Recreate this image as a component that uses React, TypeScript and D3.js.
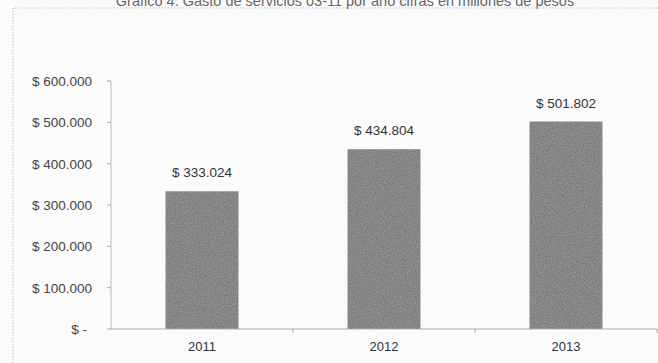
import React from "react";
import * as d3 from "d3";

const years = ["2011", "2012", "2013"];
const values = [333024, 434804, 501802];
const yTicks = [0, 100000, 200000, 300000, 400000, 500000, 600000];
const title = "Gráfico 4. Gasto de servicios 03-11 por año cifras en millones de pesos";

const W = 658;
const H = 363;

const fmt = (v: number) =>
  v === 0 ? "$ -" : "$ " + d3.format(",")(v).replace(/,/g, ".");

export default function App() {
  const x = d3.scaleBand<string>().domain(years).range([111, 657]).paddingInner(0.6).paddingOuter(0.3);
  const xb = d3.scaleBand<string>().domain(years).range([111, 657]);
  const y = d3.scaleLinear().domain([0, 600000]).range([329, 81]);
  const font = "'Liberation Sans', Arial, sans-serif";
  return (
    <svg
      width={W}
      height={H}
      style={{ position: "absolute", left: 0, top: 0, background: "#fbfbfc" }}
      fontFamily={font}
    >
      <defs>
        <filter id="grain" x="0" y="0" width="100%" height="100%">
          <feTurbulence type="fractalNoise" baseFrequency="0.9" numOctaves="2" seed="3" result="n" />
          <feColorMatrix in="n" type="matrix" values="0 0 0 0 0.42  0 0 0 0 0.42  0 0 0 0 0.43  0 0 0 -0.9 0.75" result="c" />
          <feComposite in="c" in2="SourceGraphic" operator="in" result="t" />
          <feMerge>
            <feMergeNode in="SourceGraphic" />
            <feMergeNode in="t" />
          </feMerge>
        </filter>
      </defs>
      <text x={345} y={6} textAnchor="middle" fontSize={14.5} fill="#666">
        {title}
      </text>
      <path d={`M13,${H} V8 H${W}`} fill="none" stroke="#aaa" strokeWidth={1} strokeDasharray="1,2" />
      {/* y axis */}
      <line x1={111} x2={111} y1={y(600000)} y2={y(0)} stroke="#bbb" />
      {yTicks.map((t) => (
        <g key={t}>
          <line x1={107} x2={111} y1={y(t)} y2={y(t)} stroke="#aaa" />
          <text
            x={t === 0 ? 87 : 92}
            y={y(t)}
            dy="0.36em"
            textAnchor="end"
            fontSize={13.5}
            fill="#444"
          >
            {fmt(t)}
          </text>
        </g>
      ))}
      {/* bars */}
      {values.map((v, i) => (
        <g key={years[i]}>
          <rect
            x={x(years[i])}
            y={y(v)}
            width={x.bandwidth()}
            height={y(0) - y(v)}
            fill="#717173"
            filter="url(#grain)"
          />
          <text
            x={(x(years[i]) as number) + x.bandwidth() / 2}
            y={y(v) - 14}
            textAnchor="middle"
            fontSize={13.5}
            fill="#333"
          >
            {fmt(v)}
          </text>
          <text
            x={(x(years[i]) as number) + x.bandwidth() / 2}
            y={351}
            textAnchor="middle"
            fontSize={13}
            fill="#333"
          >
            {years[i]}
          </text>
        </g>
      ))}
      {/* x axis */}
      <line x1={111} x2={657} y1={y(0)} y2={y(0)} stroke="#aaa" />
      {years.map((yr) => (
        <line
          key={yr}
          x1={(xb(yr) as number) + xb.bandwidth()}
          x2={(xb(yr) as number) + xb.bandwidth()}
          y1={y(0)}
          y2={y(0) + 4}
          stroke="#aaa"
        />
      ))}
    </svg>
  );
}
